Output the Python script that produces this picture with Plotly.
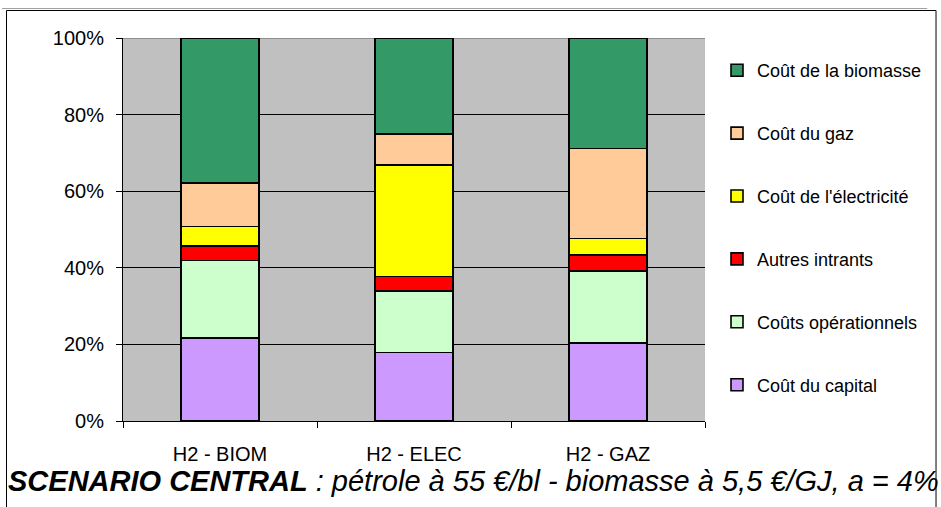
import plotly.graph_objects as go

# Filières de production d'hydrogène
categories = ["H2 - BIOM", "H2 - ELEC", "H2 - GAZ"]

# Répartition des coûts (% du coût total), du bas vers le haut de la pile
cout_capital = [21.7, 17.9, 20.3]
couts_operationnels = [20.2, 16.0, 18.8]
autres_intrants = [3.8, 3.8, 4.2]
cout_electricite = [5.1, 29.1, 4.3]
cout_gaz = [11.3, 8.1, 23.5]
cout_biomasse = [37.9, 25.1, 28.9]

series = [
    ("Coût du capital", cout_capital, "#CC99FF"),
    ("Coûts opérationnels", couts_operationnels, "#CCFFCC"),
    ("Autres intrants", autres_intrants, "#FF0000"),
    ("Coût de l'électricité", cout_electricite, "#FFFF00"),
    ("Coût du gaz", cout_gaz, "#FFCC99"),
    ("Coût de la biomasse", cout_biomasse, "#339966"),
]

y_ticks = [0, 20, 40, 60, 80, 100]
y_tick_labels = ["0%", "20%", "40%", "60%", "80%", "100%"]

FONT = "Liberation Sans, Arial, sans-serif"

fig = go.Figure()
n = len(series)
for i, (name, vals, color) in enumerate(series):
    fig.add_trace(go.Bar(
        x=categories, y=vals, name=name, legendgroup=name,
        legendrank=n - i,  # top of the stack listed first
        marker=dict(color=color, line=dict(color="black", width=1.6)),
    ))

W, H = 941, 507
L, R, T, B = 123, 715, 38, 421  # plot area in pixels


def px_x(x):
    return (x - L) / (R - L)


def px_y(y):
    return (B - y) / (B - T)


fig.update_layout(
    width=W, height=H,
    margin=dict(l=L, r=W - R, t=T, b=H - B),
    barmode="stack", bargap=0.6,
    paper_bgcolor="white", plot_bgcolor="#C0C0C0",
    font=dict(family=FONT, size=19, color="black"),
    showlegend=True,
    legend=dict(
        traceorder="grouped", tracegroupgap=36.5,
        xref="container", yref="container",
        x=717 / W, y=1 - 52 / H, xanchor="left", yanchor="top",
        bgcolor="rgba(0,0,0,0)", font=dict(size=18, family=FONT),
        itemclick=False, maxheight=600,
    ),
    xaxis=dict(
        showline=True, linecolor="black", linewidth=1,
        ticks="outside", tickson="boundaries", ticklen=6, tickcolor="black",
        ticklabelstandoff=15, tickfont=dict(size=20),
    ),
    yaxis=dict(
        range=[0, 100], tickmode="array", tickvals=y_ticks, ticktext=y_tick_labels,
        showline=True, linecolor="black", linewidth=1,
        ticks="outside", ticklen=6, tickcolor="black", ticklabelstandoff=8,
        showgrid=True, gridcolor="black", gridwidth=1,
        zeroline=False, tickfont=dict(size=20),
    ),
    shapes=[
        # top edge of the plot area in grey
        dict(type="line", xref="paper", yref="y", x0=0, x1=1, y0=100, y1=100,
             line=dict(color="#808080", width=1.5), layer="between"),
        # outer frame of the chart
        dict(type="rect", xref="paper", yref="paper",
             x0=px_x(4.5), x1=px_x(950), y0=px_y(520), y1=px_y(10.5),
             line=dict(color="black", width=1)),
        dict(type="line", xref="paper", yref="paper",
             x0=px_x(0), x1=px_x(941), y0=px_y(8.5), y1=px_y(8.5),
             line=dict(color="#A0A0A0", width=1)),
    ],
    annotations=[
        dict(
            xref="paper", yref="paper", x=px_x(4), y=px_y(481),
            xanchor="left", yanchor="middle", showarrow=False,
            text="<b><i>SCENARIO CENTRAL</i></b><i> : pétrole à 55 €/bl - biomasse à 5,5 €/GJ, a = 4%</i>",
            font=dict(size=29, family=FONT, color="black"),
        )
    ],
)

fig.write_html("out.html")
